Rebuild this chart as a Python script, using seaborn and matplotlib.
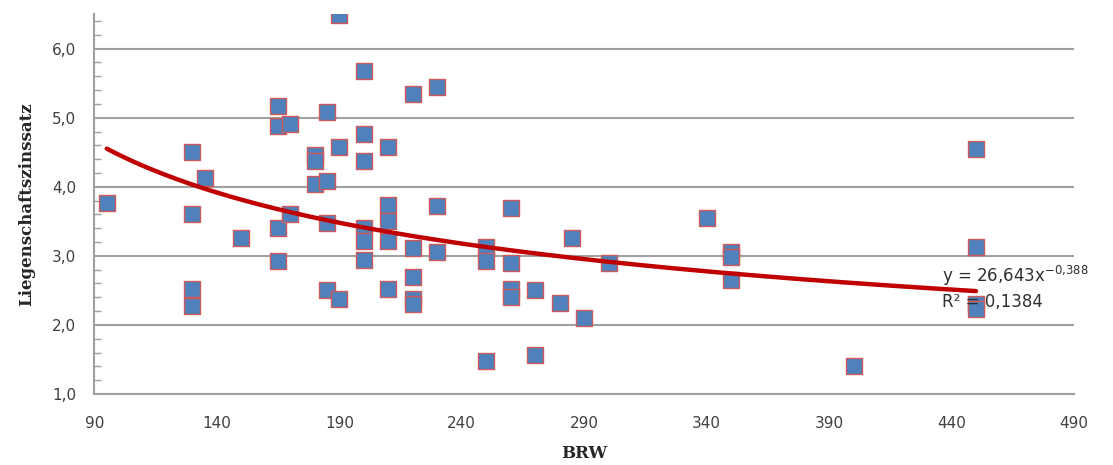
import numpy as np
import pandas as pd
import matplotlib
matplotlib.use('Agg')
import matplotlib.pyplot as plt
from matplotlib.ticker import MultipleLocator, FuncFormatter
import seaborn as sns

# BRW (x) and Liegenschaftszinssatz (y)
brw = [95, 130, 130, 130, 130, 135, 150,
       165, 165, 165, 165, 170, 170,
       180, 180, 180, 185, 185, 185, 185,
       190, 190, 190,
       200, 200, 200, 200, 200, 200,
       210, 210, 210, 210, 210,
       220, 220, 220, 220, 220,
       230, 230, 230,
       250, 250, 250,
       260, 260, 260, 260,
       270, 270, 280, 285, 290, 300,
       340, 350, 350, 350, 400,
       450, 450, 450, 450]
zins = [3.77, 4.51, 3.61, 2.52, 2.28, 4.12, 3.26,
        5.17, 4.88, 3.40, 2.92, 4.91, 3.61,
        4.46, 4.37, 4.04, 5.08, 4.08, 3.48, 2.50,
        6.48, 4.58, 2.37,
        5.68, 4.76, 4.37, 3.40, 3.21, 2.94,
        4.58, 3.74, 3.51, 3.22, 2.52,
        5.35, 3.11, 2.69, 2.37, 2.31,
        5.45, 3.72, 3.06,
        3.13, 2.92, 1.48,
        3.69, 2.90, 2.52, 2.41,
        2.51, 1.57, 2.32, 3.26, 2.10, 2.89,
        3.55, 3.06, 2.98, 2.65, 1.41,
        4.55, 3.13, 2.30, 2.23]

x_ticks = [90, 140, 190, 240, 290, 340, 390, 440, 490]

# power trend line from the chart label: y = a * x^b
trend_a = 26.643
trend_b = -0.388
trend_r2 = 0.1384

df = pd.DataFrame({'BRW': brw, 'Liegenschaftszinssatz': zins})
x_fit = np.linspace(min(brw), max(brw), 200)
fit = pd.DataFrame({'BRW': x_fit, 'y': trend_a * x_fit ** trend_b})

sns.set_style('white')
plt.rcParams['font.family'] = ['DejaVu Sans']

fig = plt.figure(figsize=(11.13, 4.65), dpi=100)
ax = fig.add_axes([0.0849, 0.1527, 0.880, 0.817])

sns.scatterplot(data=df, x='BRW', y='Liegenschaftszinssatz', marker='s', s=125,
                color='#4F81BD', edgecolor='#D05A5A', linewidth=1.0, ax=ax, zorder=3)
sns.lineplot(data=fit, x='BRW', y='y', color='#C00000', linewidth=3.2, ax=ax, zorder=4)

ax.set_xlim(90, 490)
ax.set_ylim(1.0, 6.5)
ax.set_xticks(x_ticks)
ax.yaxis.set_major_locator(MultipleLocator(1.0))
ax.yaxis.set_minor_locator(MultipleLocator(0.2))
ax.yaxis.set_major_formatter(FuncFormatter(lambda v, p: f'{v:.1f}'.replace('.', ',')))

ax.grid(axis='y', which='major', color='#A0A0A0', linewidth=1.5, zorder=0)
ax.set_axisbelow(True)
for s in ['top', 'right']:
    ax.spines[s].set_visible(False)
for s in ['left', 'bottom']:
    ax.spines[s].set_color('#A0A0A0')
    ax.spines[s].set_linewidth(1.5)

ax.tick_params(axis='x', which='major', direction='out', length=8, width=1.2,
               color='#A0A0A0', labelsize=11, labelcolor='#404040', pad=8)
ax.tick_params(axis='y', which='major', direction='out', length=7, width=1.2,
               color='#A0A0A0', labelsize=11, labelcolor='#404040', pad=6)
ax.tick_params(axis='y', which='minor', direction='in', length=5, width=1.0,
               color='#A0A0A0', left=True)

ax.set_xlabel('BRW', family='DejaVu Serif', fontweight='bold', fontsize=12,
              labelpad=10)
ax.set_ylabel('Liegenschaftszinssatz', family='DejaVu Serif', fontweight='bold',
              fontsize=12, labelpad=12)

ax.text(436, 2.71, r'y = 26,643x$^{-0{,}388}$', fontsize=12, color='#303030',
        va='center', ha='left', zorder=5)
ax.text(436, 2.33, f'R² = {trend_r2:.4f}'.replace('.', ','), fontsize=12,
        color='#303030', va='center', ha='left', zorder=5)

fig.savefig('out.png', dpi=100)
